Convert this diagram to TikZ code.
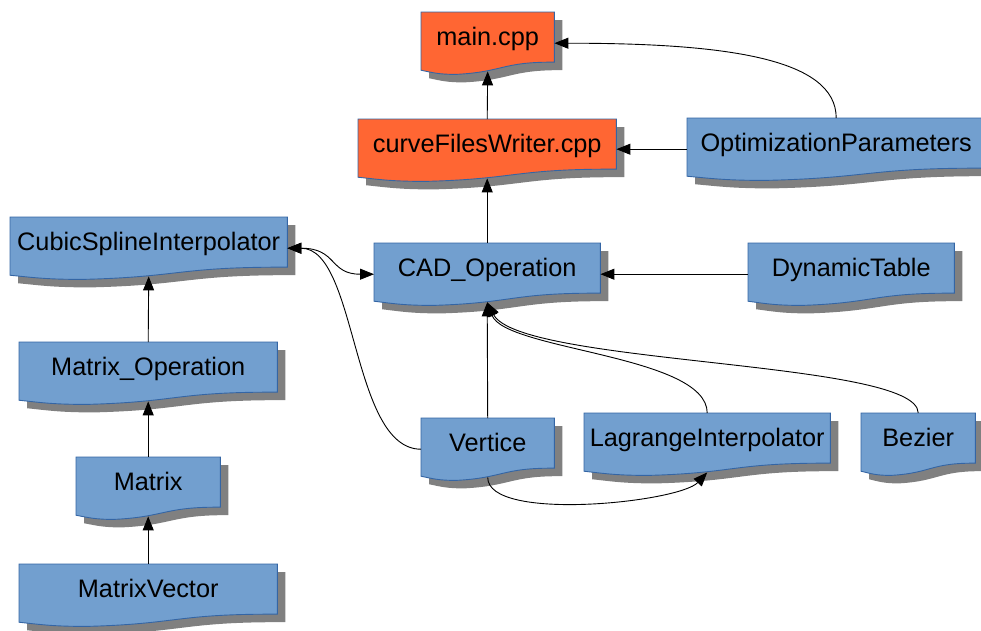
\documentclass[tikz,border=0pt]{standalone}
\usepackage{fontspec}
\setmainfont{Liberation Sans}
\usetikzlibrary{arrows.meta,calc}

\definecolor{boxblue}{HTML}{729FCF}
\definecolor{boxorange}{HTML}{FF6633}
\definecolor{boxborder}{HTML}{3465A4}
\definecolor{shadowgray}{HTML}{808080}

\pgfdeclarelayer{bg}
\pgfsetlayers{bg,main}

% Flowchart "document" outline around a node, offset by (#2,#3)
\newcommand\docshape[4]{%
  \path[#4] let \p1=(#1.north west), \p2=(#1.south east) in
    ({\x1+#2},{\y1+#3}) -- ({\x2+#2},{\y1+#3})
    -- ({\x2+#2},{\y1-0.804*(\y1-\y2)+#3})
    .. controls ({\x1+0.604*(\x2-\x1)+#2},{\y1-0.797*(\y1-\y2)+#3})
            and ({\x1+0.618*(\x2-\x1)+#2},{\y1-0.962*(\y1-\y2)+#3})
    .. ({\x1+0.26*(\x2-\x1)+#2},{\y2+#3})
    .. controls ({\x1+0.132*(\x2-\x1)+#2},{\y2+#3})
            and ({\x1+0.086*(\x2-\x1)+#2},{\y1-0.971*(\y1-\y2)+#3})
    .. ({\x1+#2},{\y1-0.933*(\y1-\y2)+#3}) -- cycle;}

% shadow + body for one document box
\newcommand\docbox[2]{%
  \begin{pgfonlayer}{bg}
    \docshape{#1}{8pt}{-8pt}{fill=shadowgray}
    \docshape{#1}{0pt}{0pt}{fill=#2, draw=boxborder, line width=0.9pt}
  \end{pgfonlayer}}

\tikzset{
  box/.style={anchor=north west, inner sep=0pt, text height=33pt, text depth=29pt,
              font=\fontsize{25.3}{30}\selectfont},
  arr/.style={-{Triangle[length=14pt,width=11pt]}, line width=0.9pt},
  arrboth/.style={{Triangle[length=14pt,width=11pt]}-{Triangle[length=14pt,width=11pt]}, line width=0.9pt},
}

\begin{document}
\begin{tikzpicture}[x=1pt, y=-1pt]
\useasboundingbox (0,0) rectangle (981,630);
\clip (0,0) rectangle (981,630);

% class / source boxes
\node[box, minimum width=133pt] (main) at (421,12)  {main.cpp};
\node[box, minimum width=258pt] (cfw)  at (358,119) {curveFilesWriter.cpp};
\node[box, minimum width=298pt] (opt)  at (687,118) {OptimizationParameters};
\node[box, minimum width=277pt] (cubic) at (10,217) {CubicSplineInterpolator};
\node[box, minimum width=226pt] (cad)  at (374,243) {CAD\_Operation};
\node[box, minimum width=206pt] (dyn)  at (748,243) {DynamicTable};
\node[box, minimum width=258pt] (matop) at (19,342) {Matrix\_Operation};
\node[box, minimum width=133pt] (vert) at (421,418) {Vertice};
\node[box, minimum width=246pt] (lag)  at (584,413) {LagrangeInterpolator};
\node[box, minimum width=114pt] (bez)  at (861,413) {Bezier};
\node[box, minimum width=144pt] (mat)  at (76,457)  {Matrix};
\node[box, minimum width=258pt] (mvec) at (19,564)  {MatrixVector};

\docbox{main}{boxorange}
\docbox{cfw}{boxorange}
\docbox{opt}{boxblue}
\docbox{cubic}{boxblue}
\docbox{cad}{boxblue}
\docbox{dyn}{boxblue}
\docbox{matop}{boxblue}
\docbox{vert}{boxblue}
\docbox{lag}{boxblue}
\docbox{bez}{boxblue}
\docbox{mat}{boxblue}
\docbox{mvec}{boxblue}

% dependencies
\draw[arr] (cfw.north) -- ([yshift=3pt]main.south);
\draw[arr] (opt.north) .. controls +(0,-60) and +(170,0) .. (main.east);
\draw[arr] (opt.west) -- (opt.west -| cfw.east);
\draw[arr] (cad.north) -- ([yshift=3pt]cfw.south);
\draw[arr] (dyn.west) -- (dyn.west -| cad.east);
\draw[arr] (vert.north) -- ([yshift=3pt]cad.south);
\draw[arr] (lag.north) .. controls +(0,-58) and +(18,48) .. ([yshift=3pt]cad.south);
\draw[arr] (bez.north) .. controls +(0,-53) and +(33,63) .. ([yshift=3pt]cad.south);
\draw[arrboth] (cubic.east) .. controls +(50,0) and +(-45,0) .. (cad.west);
\draw[arr] (vert.west) .. controls +(-70,0) and +(70,0) .. (cubic.east);
\draw[arr] ([yshift=3pt]vert.south) .. controls +(0,45) and +(-28,30) .. ([yshift=3pt]lag.south);
\draw[arr] (matop.north) -- ([yshift=3pt]cubic.south);
\draw[arr] (mat.north) -- ([yshift=3pt]matop.south);
\draw[arr] (mvec.north) -- ([yshift=3pt]mat.south);
\end{tikzpicture}
\end{document}
